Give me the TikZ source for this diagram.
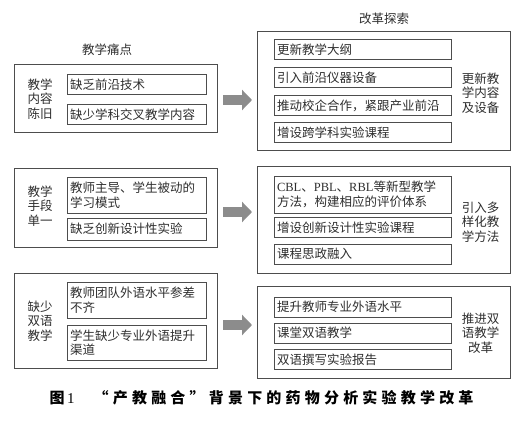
\documentclass[tikz,border=0pt]{standalone}
\usepackage{fontspec}
\setmainfont{Noto Sans CJK SC}
\newfontfamily\latfont{Liberation Serif}
\newfontfamily\capfont{Noto Sans CJK SC}[LetterSpace=28]
\usetikzlibrary{arrows.meta}
\definecolor{framegray}{HTML}{4D4D4D}
\definecolor{arrowgray}{HTML}{8C8C8C}
\definecolor{inkgray}{HTML}{2E2E2E}

\begin{document}
\begin{tikzpicture}[x=1pt,y=-1pt]
\tikzstyle{every node}+=[inner sep=0pt, text=inkgray, font=\fontsize{12.5}{14.5}\selectfont]
\tikzstyle{outerbox}=[draw=framegray, line width=1pt]
\tikzstyle{leftitem}=[draw=framegray, line width=1pt, text width=133pt, inner xsep=3pt, align=left, minimum height=20pt]
\tikzstyle{rightitem}=[draw=framegray, line width=1pt, text width=171pt, inner xsep=3pt, align=left, minimum height=20pt]
\tikzstyle{sidelabel}=[align=center]
\tikzstyle{bigarrow}=[draw=arrowgray, line width=10pt, -{Triangle[length=10pt,width=20pt]}]
\useasboundingbox (0,0) rectangle (524,422);
% titles
\node (painTitle) at (107,50) {教学痛点};
\node (reformTitle) at (384,19) {改革探索};
% left column
\node [outerbox, minimum width=203pt, minimum height=68pt] (pain1) at (115.5,99) {};
\node [outerbox, minimum width=203pt, minimum height=78pt] (pain2) at (115.5,208) {};
\node [outerbox, minimum width=203pt, minimum height=95pt] (pain3) at (115.5,320.5) {};
\node [align=left] (pain1lab) at (40,99) {教学\\内容\\陈旧};
\node [align=left] (pain2lab) at (40,206) {教学\\手段\\单一};
\node [align=left] (pain3lab) at (40,321) {缺少\\双语\\教学};
\node [leftitem] (pain1a) at (136.5,85) {缺乏前沿技术};
\node [leftitem] (pain1b) at (136.5,115) {缺少学科交叉教学内容};
\node [leftitem, minimum height=36pt] (pain2a) at (136.5,195) {教师主导、学生被动的\\学习模式};
\node [leftitem, minimum height=22pt] (pain2b) at (136.5,229) {缺乏创新设计性实验};
\node [leftitem, minimum height=36pt] (pain3a) at (136.5,300) {教师团队外语水平参差\\不齐};
\node [leftitem, minimum height=35pt] (pain3b) at (136.5,342.5) {学生缺少专业外语提升\\渠道};
% right column
\node [outerbox, minimum width=253pt, minimum height=119pt] (reform1) at (383.5,91.5) {};
\node [outerbox, minimum width=253pt, minimum height=106pt] (reform2) at (383.5,220) {};
\node [outerbox, minimum width=253pt, minimum height=92pt] (reform3) at (383.5,332) {};
\node [rightitem] (reform1a) at (362.5,50) {更新教学大纲};
\node [rightitem] (reform1b) at (362.5,78) {引入前沿仪器设备};
\node [rightitem] (reform1c) at (362.5,105.5) {推动校企合作，紧跟产业前沿};
\node [rightitem] (reform1d) at (362.5,133) {增设跨学科实验课程};
\node [rightitem, minimum height=37pt] (reform2a) at (362.5,194.5) {{\latfont CBL}、{\latfont PBL}、{\latfont RBL}等新型教学\\方法，构建相应的评价体系};
\node [rightitem] (reform2b) at (362.5,227.5) {增设创新设计性实验课程};
\node [rightitem] (reform2c) at (362.5,254) {课程思政融入};
\node [rightitem] (reform3a) at (362.5,307) {提升教师专业外语水平};
\node [rightitem] (reform3b) at (362.5,333) {课堂双语教学};
\node [rightitem] (reform3c) at (362.5,359.5) {双语撰写实验报告};
\node [sidelabel] (reform1lab) at (480.5,93) {更新教\\学内容\\及设备};
\node [sidelabel] (reform2lab) at (480.5,222) {引入多\\样化教\\学方法};
\node [sidelabel] (reform3lab) at (480.5,333) {推进双\\语教学\\改革};
% arrows
\coordinate (go1) at (223,100); \coordinate (to1) at (252,100);
\coordinate (go2) at (223,212); \coordinate (to2) at (252,212);
\coordinate (go3) at (223,325); \coordinate (to3) at (252,325);
\draw [bigarrow] (go1) -- (to1);
\draw [bigarrow] (go2) -- (to2);
\draw [bigarrow] (go3) -- (to3);
% caption
\node [font=\fontsize{15}{17}\selectfont\capfont\bfseries, text=black] (caption) at (261.5,398) {图{\latfont\mdseries\,1}　“产教融合”背景下的药物分析实验教学改革};
\end{tikzpicture}
\end{document}
